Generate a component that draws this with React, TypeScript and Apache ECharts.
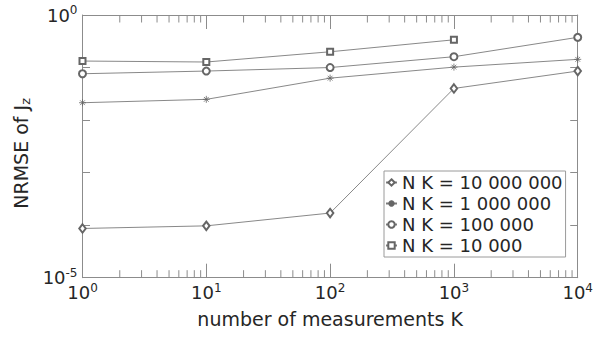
import React, { useEffect, useRef } from "react";
import * as echarts from "echarts";

const measurementsK = [1, 10, 100, 1000, 10000];
const seriesNames = ["N K = 10 000 000", "N K = 1 000 000", "N K = 100 000", "N K = 10 000"];
const nrmse10M = [8.65e-5, 9.7e-5, 1.7e-4, 0.04, 0.0857];
const nrmse1M = [0.0214, 0.0248, 0.0628, 0.1019, 0.1432];
const nrmse100k = [0.0762, 0.0857, 0.1, 0.1607, 0.3758];
const nrmse10k = [0.133, 0.1274, 0.1995, 0.3373];
const minorTickValues = [
  2, 3, 4, 5, 6, 7, 8, 9,
  20, 30, 40, 50, 60, 70, 80, 90,
  200, 300, 400, 500, 600, 700, 800, 900,
  2000, 3000, 4000, 5000, 6000, 7000, 8000, 9000,
];
const yLabelExponents = [0, -5];

const FONT = "DejaVu Sans";
const TEXT = "#262626";
const AXIS = "#8c8c8c";
const LINE = "#7a7a7a";
const MARK = "#666666";

const STAR = "path://M5 0 L5 10 M0 5 L10 5 M1.6 1.6 L8.4 8.4 M1.6 8.4 L8.4 1.6";

function pair(ys: number[]) {
  return ys.map((y, i) => [measurementsK[i], y]);
}

const richTick = {
  b: { fontSize: 18, fontFamily: FONT, color: TEXT },
  s: { fontSize: 12, fontFamily: FONT, color: TEXT, padding: [0, 0, 10, 0] },
};

export default function App() {
  const ref = useRef<HTMLDivElement>(null);
  useEffect(() => {
    if (!ref.current) return;
    const chart = echarts.init(ref.current, null, { renderer: "svg" });
    const lineSeries = (name: string, ys: number[], symbol: string, size: number | number[]) => ({
      type: "line",
      name,
      data: pair(ys),
      symbol,
      symbolSize: size,
      showAllSymbol: true,
      lineStyle: { color: LINE, width: 0.9 },
      itemStyle: { color: MARK, borderColor: MARK, borderWidth: 0.8 },
      emphasis: { disabled: true },
      z: 3,
    });
    const xBase = {
      type: "log",
      logBase: 10,
      min: 1,
      max: 10000,
      splitLine: { show: false },
      axisLine: { show: true, lineStyle: { color: AXIS, width: 1 } },
      axisTick: { show: true, inside: true, length: 14, lineStyle: { color: AXIS, width: 1 } },
      minorTick: { show: false },
    };
    const yBase = {
      type: "log",
      logBase: 10,
      min: 1e-5,
      max: 1,
      splitNumber: 5,
      splitLine: { show: false },
      axisLine: { show: true, lineStyle: { color: AXIS, width: 1 } },
      axisTick: { show: true, inside: true, length: 7.5, lineStyle: { color: AXIS, width: 1 } },
    };
    chart.setOption({
      animation: false,
      backgroundColor: "#ffffff",
      grid: { left: 82.5, right: 15, top: 15, bottom: 59.3, containLabel: false },
      xAxis: [
        {
          ...xBase,
          position: "bottom",
          name: "number of measurements K",
          nameLocation: "middle",
          nameGap: 32,
          nameTextStyle: { fontSize: 19, fontFamily: FONT, color: TEXT },
          axisLabel: {
            margin: 4,
            formatter: (v: number) => `{b|10}{s|${Math.round(Math.log10(v))}}`,
            rich: richTick,
          },
        },
        { ...xBase, position: "top", axisLabel: { show: false } },
      ],
      yAxis: [
        {
          ...yBase,
          position: "left",
          name: "{n|NRMSE of J}{z|z}",
          nameLocation: "middle",
          nameGap: 46,
          nameRotate: 90,
          nameTextStyle: {
            padding: [0, 14, 0, 0],
            rich: {
              n: { fontSize: 19, fontFamily: FONT, color: TEXT },
              z: { fontSize: 13, fontFamily: FONT, color: TEXT, padding: [8, 0, 0, 0] },
            },
          },
          axisLabel: {
            margin: 5,
            formatter: (v: number) => {
              const e = Math.round(Math.log10(v));
              return yLabelExponents.includes(e) ? `{b|10}{s|${e}}` : "";
            },
            rich: richTick,
          },
        },
        { ...yBase, position: "right", axisLabel: { show: false } },
      ],
      legend: {
        data: seriesNames,
        orient: "vertical",
        left: 384,
        top: 171,
        itemWidth: 11,
        itemHeight: 8,
        itemGap: 0,
        padding: [1, 3, 1, 1],
        borderColor: "#9a9a9a",
        borderWidth: 1,
        backgroundColor: "#ffffff",
        textStyle: { fontSize: 18, fontFamily: FONT, color: TEXT, lineHeight: 21 },
        selectedMode: false,
      },
      series: [
        {
          type: "custom",
          name: "minorTicks",
          silent: true,
          clip: false,
          z: 1,
          data: minorTickValues.map((v) => [v, 1]),
          renderItem: (params: any, api: any) => {
            const x = api.coord([api.value(0), 1])[0];
            const cs = params.coordSys;
            const style = { stroke: AXIS, lineWidth: 1 };
            return {
              type: "group",
              children: [
                { type: "line", shape: { x1: x, y1: cs.y + cs.height, x2: x, y2: cs.y + cs.height - 7.5 }, style },
                { type: "line", shape: { x1: x, y1: cs.y, x2: x, y2: cs.y + 7.5 }, style },
              ],
            };
          },
        },
        lineSeries(seriesNames[0], nrmse10M, "emptyDiamond", [6.5, 8.5]),
        lineSeries(seriesNames[1], nrmse1M, STAR, 7),
        lineSeries(seriesNames[2], nrmse100k, "emptyCircle", 7),
        lineSeries(seriesNames[3], nrmse10k, "emptyRect", 6),
      ],
    });
    return () => chart.dispose();
  }, []);
  return <div ref={ref} style={{ width: 596, height: 337, position: "absolute", left: 0, top: 0 }} />;
}
